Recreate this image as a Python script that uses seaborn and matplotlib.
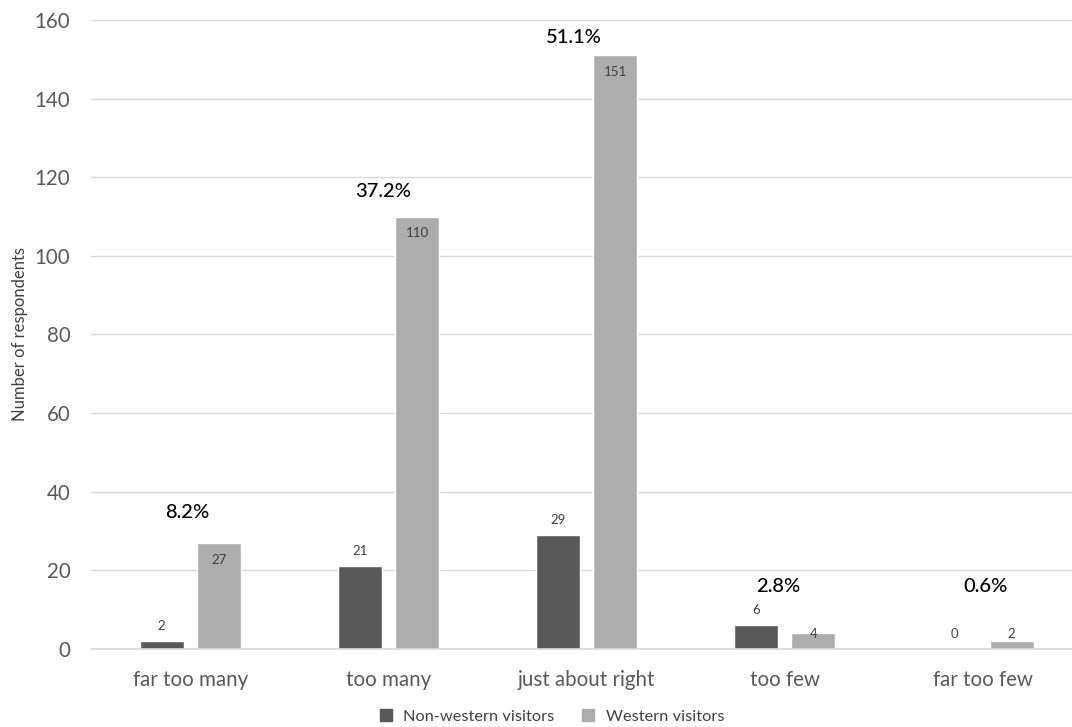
import matplotlib
matplotlib.use("Agg")
import matplotlib.pyplot as plt
import seaborn as sns
import pandas as pd
from matplotlib.lines import Line2D

categories = ["far too many", "too many", "just about right", "too few", "far too few"]
non_western = [2, 21, 29, 6, 0]
western = [27, 110, 151, 4, 2]
percent_labels = ["8.2%", "37.2%", "51.1%", "2.8%", "0.6%"]
percent_y = [34.6, 116.5, 155.5, 16.0, 16.0]
percent_dx = [-0.015, -0.025, -0.064, -0.035, 0.015]
series_names = ["Non-western visitors", "Western visitors"]
y_ticks = [0, 20, 40, 60, 80, 100, 120, 140, 160]

sns.set_theme(style="white")
plt.rcParams['font.family'] = ['Lato', 'DejaVu Sans']

df = pd.DataFrame({
    "category": categories * 2,
    "value": non_western + western,
    "group": [series_names[0]] * len(categories) + [series_names[1]] * len(categories),
})

colors = {series_names[0]: "#595959", series_names[1]: "#ADADAD"}

fig = plt.figure(figsize=(10.72, 7.27), dpi=100)
# plot area extends past the right edge of the image (cropped, as in the reference)
ax = fig.add_axes([0.085, 0.1073, 0.9245, 0.8652])

sns.barplot(data=df, x="category", y="value", hue="group", order=categories,
            hue_order=series_names, palette=colors, width=0.576, gap=0.23,
            saturation=1, ax=ax, legend=False, errorbar=None)

ax.set_ylim(0, 160)
ax.set_xlim(-0.5, 4.5)
ax.set_yticks(y_ticks)
ax.yaxis.grid(True, color="#D9D9D9", linewidth=1)
ax.set_axisbelow(True)
for s in ["top", "right", "left"]:
    ax.spines[s].set_visible(False)
ax.spines["bottom"].set_color("#D9D9D9")
ax.spines["bottom"].set_linewidth(1.2)
ax.tick_params(axis="both", length=0, labelsize=14.8, colors="#595959")
ax.tick_params(axis="y", pad=15)
ax.tick_params(axis="x", pad=15)
ax.set_xlabel("")
ax.set_ylabel("Number of respondents", fontsize=12, color="#404040", labelpad=5)

off = 0.144
for i, (nv, wv) in enumerate(zip(non_western, western)):
    ax.text(i - off, nv + 3.8, str(nv), ha="center", va="center", fontsize=9.5, color="#404040")
    ax.text(i + off, max(wv - 4.3, 3.9), str(wv), ha="center", va="center", fontsize=9.5, color="#404040")
    ax.text(i + percent_dx[i], percent_y[i], percent_labels[i], ha="center", va="center",
            fontsize=14.5, color="#000000", fontweight="medium")

handles = [Line2D([0], [0], marker="s", linestyle="", markersize=8.5,
                  markerfacecolor=colors[n], markeredgecolor=colors[n]) for n in series_names]
fig.legend(handles, series_names, loc="center", bbox_to_anchor=(0.51, 0.0138), ncol=2,
           frameon=False, fontsize=11.8, handletextpad=0.05, columnspacing=1.1,
           labelcolor="#404040", borderpad=0)

fig.savefig("out.png", dpi=100)
